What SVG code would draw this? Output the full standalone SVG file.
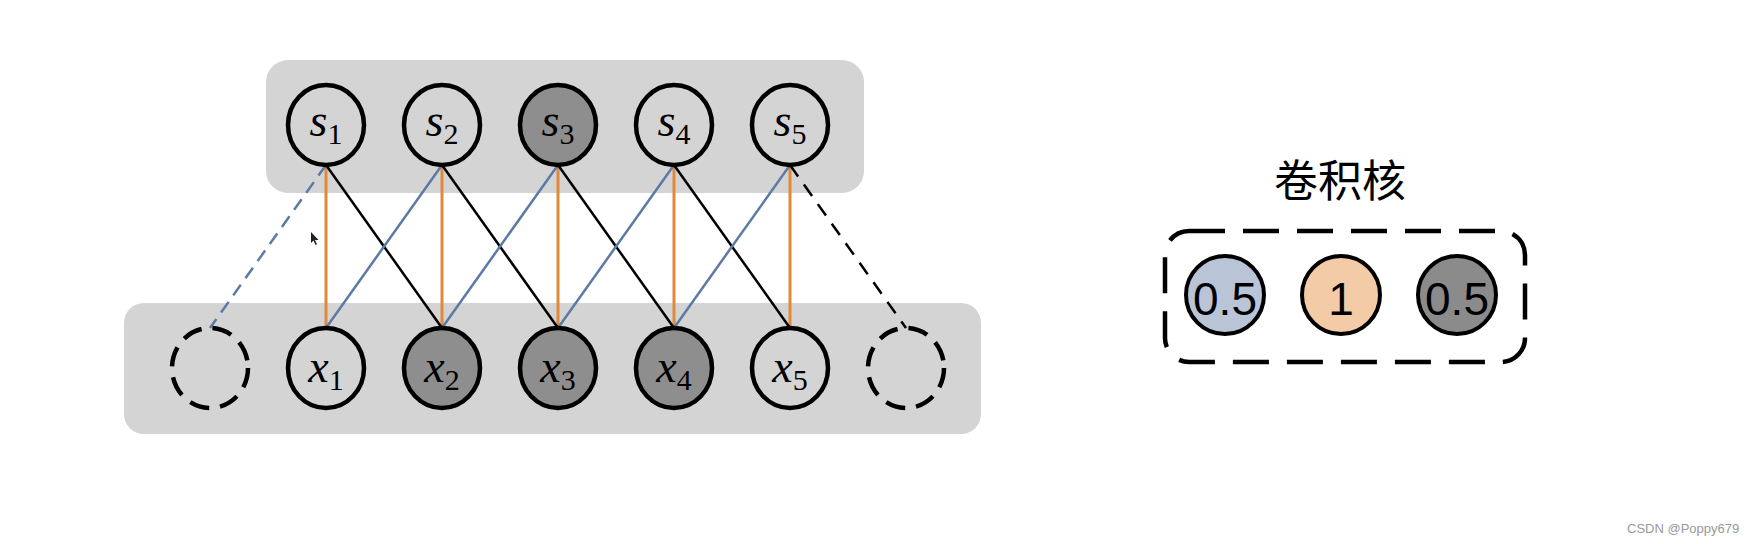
<svg xmlns="http://www.w3.org/2000/svg" width="1754" height="544" viewBox="0 0 1754 544">
<style>
.box{fill:#d4d4d4}
.node{stroke:#000;stroke-width:4.5}
.light{fill:#d4d4d4}
.dark{fill:#8e8e8e}
.ghost{fill:none;stroke:#000;stroke-width:4.5;stroke-dasharray:20 11}
.v{font-family:"Liberation Serif",serif;font-style:italic;font-size:46px}
.sub{font-family:"Liberation Serif",serif;font-style:normal;font-size:30px}
.or{stroke:#e08a3c;stroke-width:3}
.bl{stroke:#5c7aa6;stroke-width:2.5}
.bk{stroke:#000;stroke-width:2.5}
.num{font-family:"Liberation Sans",Arial,sans-serif;font-size:46px;text-anchor:middle}
</style>
<rect width="1754" height="544" fill="#fff"/>
<rect id="top-layer" class="box" x="266" y="60" width="598" height="133" rx="22"/>
<rect id="bottom-layer" class="box" x="124" y="303" width="857" height="131" rx="20"/>
<g id="connectors" fill="none">
<line class="or" x1="326" y1="165" x2="326" y2="328"/>
<line class="or" x1="442" y1="165" x2="442" y2="328"/>
<line class="or" x1="558" y1="165" x2="558" y2="328"/>
<line class="or" x1="674" y1="165" x2="674" y2="328"/>
<line class="or" x1="790" y1="165" x2="790" y2="328"/>
<line class="bk" x1="326" y1="165" x2="442" y2="328"/>
<line class="bk" x1="442" y1="165" x2="558" y2="328"/>
<line class="bk" x1="558" y1="165" x2="674" y2="328"/>
<line class="bk" x1="674" y1="165" x2="790" y2="328"/>
<line class="bk" x1="790" y1="165" x2="906" y2="328" stroke-dasharray="14 10"/>
<line class="bl" x1="326" y1="165" x2="210" y2="328" stroke-dasharray="13 8"/>
<line class="bl" x1="442" y1="165" x2="326" y2="328"/>
<line class="bl" x1="558" y1="165" x2="442" y2="328"/>
<line class="bl" x1="674" y1="165" x2="558" y2="328"/>
<line class="bl" x1="790" y1="165" x2="674" y2="328"/>
</g>
<g id="s1"><ellipse class="node light" cx="326" cy="125" rx="38" ry="40"/><text x="326" y="136" text-anchor="middle"><tspan class="v">s</tspan><tspan class="sub" dy="8">1</tspan></text></g>
<g id="s2"><ellipse class="node light" cx="442" cy="125" rx="38" ry="40"/><text x="442" y="136" text-anchor="middle"><tspan class="v">s</tspan><tspan class="sub" dy="8">2</tspan></text></g>
<g id="s3"><ellipse class="node dark" cx="558" cy="125" rx="38" ry="40"/><text x="558" y="136" text-anchor="middle"><tspan class="v">s</tspan><tspan class="sub" dy="8">3</tspan></text></g>
<g id="s4"><ellipse class="node light" cx="674" cy="125" rx="38" ry="40"/><text x="674" y="136" text-anchor="middle"><tspan class="v">s</tspan><tspan class="sub" dy="8">4</tspan></text></g>
<g id="s5"><ellipse class="node light" cx="790" cy="125" rx="38" ry="40"/><text x="790" y="136" text-anchor="middle"><tspan class="v">s</tspan><tspan class="sub" dy="8">5</tspan></text></g>
<g id="pad-left"><ellipse class="ghost" cx="210" cy="368" rx="38" ry="40"/></g>
<g id="x1"><ellipse class="node light" cx="326" cy="368" rx="38" ry="40"/><text x="326" y="382" text-anchor="middle"><tspan class="v">x</tspan><tspan class="sub" dy="8">1</tspan></text></g>
<g id="x2"><ellipse class="node dark" cx="442" cy="368" rx="38" ry="40"/><text x="442" y="382" text-anchor="middle"><tspan class="v">x</tspan><tspan class="sub" dy="8">2</tspan></text></g>
<g id="x3"><ellipse class="node dark" cx="558" cy="368" rx="38" ry="40"/><text x="558" y="382" text-anchor="middle"><tspan class="v">x</tspan><tspan class="sub" dy="8">3</tspan></text></g>
<g id="x4"><ellipse class="node dark" cx="674" cy="368" rx="38" ry="40"/><text x="674" y="382" text-anchor="middle"><tspan class="v">x</tspan><tspan class="sub" dy="8">4</tspan></text></g>
<g id="x5"><ellipse class="node light" cx="790" cy="368" rx="38" ry="40"/><text x="790" y="382" text-anchor="middle"><tspan class="v">x</tspan><tspan class="sub" dy="8">5</tspan></text></g>
<g id="pad-right"><ellipse class="ghost" cx="906" cy="368" rx="38" ry="40"/></g>
<path id="cursor" d="M311 232 L311 243 L313.5 240.5 L315.5 245 L317 244.3 L315 240 L318.5 240 Z" fill="#222"/>
<g id="kernel">
<text x="1340" y="197" text-anchor="middle" font-family="'Noto Sans CJK SC',sans-serif" font-size="44">卷积核</text>
<rect x="1165" y="231" width="360" height="131" rx="24" fill="none" stroke="#000" stroke-width="4.5" stroke-dasharray="36 18"/>
<g id="k1"><circle cx="1225" cy="295" r="39" fill="#b9c5d6" stroke="#000" stroke-width="4"/><text class="num" x="1225" y="315">0.5</text></g>
<g id="k2"><circle cx="1341" cy="295" r="39" fill="#f3cba6" stroke="#000" stroke-width="4"/><text class="num" x="1341" y="315">1</text></g>
<g id="k3"><circle cx="1457" cy="295" r="39" fill="#8b8b8b" stroke="#000" stroke-width="4"/><text class="num" x="1457" y="315">0.5</text></g>
</g>
<text x="1627" y="533" font-family="'Liberation Sans',Arial,sans-serif" font-size="13" fill="#999">CSDN @Poppy679</text>
</svg>
